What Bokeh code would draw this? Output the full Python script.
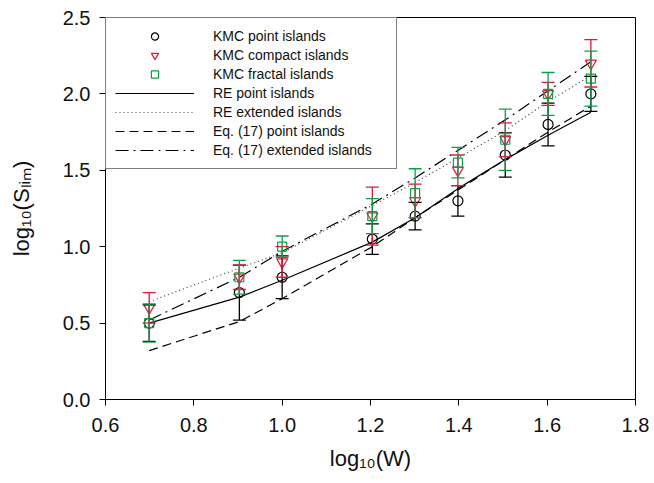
import numpy as np
from bokeh.plotting import figure
from bokeh.models import (Range1d, FixedTicker, PrintfTickFormatter, Whisker, TeeHead,
                          ColumnDataSource, Legend, LegendItem)
from bokeh.embed import file_html
from bokeh.resources import INLINE

# ---------------- data ----------------
W = [5, 8, 10, 16, 20, 25, 32, 40, 50]
logW = [float(np.log10(w)) for w in W]

kmc_point = [0.50, 0.70, 0.80, 1.05, 1.20, 1.30, 1.60, 1.80, 2.00]
kmc_point_err = [0.12, 0.18, 0.14, 0.10, 0.09, 0.10, 0.145, 0.14, 0.115]

kmc_compact = [0.60, 0.80, 0.90, 1.20, 1.30, 1.50, 1.70, 2.00, 2.20]
kmc_compact_err = [0.10, 0.08, 0.10, 0.19, 0.11, 0.10, 0.11, 0.075, 0.155]

kmc_fractal = [0.50, 0.80, 1.00, 1.20, 1.35, 1.55, 1.70, 2.00, 2.10]
kmc_fractal_err = [0.125, 0.11, 0.07, 0.115, 0.16, 0.10, 0.20, 0.14, 0.18]

re_point = [0.50, 0.67, 0.78, 1.03, 1.19, 1.38, 1.57, 1.73, 1.88]
re_extended = [0.64, 0.86, 0.96, 1.27, 1.42, 1.58, 1.76, 1.95, 2.12]
eq17_point = [0.32, 0.51, 0.66, 1.00, 1.19, 1.37, 1.57, 1.75, 1.92]
eq17_extended = [0.52, 0.80, 0.97, 1.28, 1.45, 1.63, 1.83, 2.02, 2.21]

x_ticks = [0.6, 0.8, 1.0, 1.2, 1.4, 1.6, 1.8]
y_ticks = [0.0, 0.5, 1.0, 1.5, 2.0, 2.5]

x_title = "log\u2081\u2080(W)"
y_title = "log\u2081\u2080(S\u2097\u1d62\u2098)"

RED = "#e4163c"
GREEN = "#0f9e48"
FONT = "Liberation Sans"

# ---------------- figure ----------------
p = figure(width=654, height=483, output_backend="svg", toolbar_location=None,
           x_range=Range1d(0.6, 1.8), y_range=Range1d(0.0, 2.5),
           min_border_left=105, min_border_right=19, min_border_top=17, min_border_bottom=84)
p.background_fill_color = "white"
p.border_fill_color = "white"
p.outline_line_color = "black"
p.outline_line_width = 1
p.xgrid.visible = False
p.ygrid.visible = False

for ax, ticks in ((p.xaxis, x_ticks), (p.yaxis, y_ticks)):
    ax.ticker = FixedTicker(ticks=ticks)
    ax.formatter = PrintfTickFormatter(format="%.1f")
    ax.major_tick_in = 0
    ax.major_tick_out = 6
    ax.minor_tick_line_color = None
    ax.axis_line_color = "black"
    ax.major_tick_line_color = "black"
    ax.major_label_text_font = FONT
    ax.major_label_text_font_size = "20px"
    ax.major_label_text_color = "#111111"
    ax.axis_label_text_font = FONT
    ax.axis_label_text_font_size = "22px"
    ax.axis_label_text_font_style = "normal"
    ax.axis_label_text_color = "#111111"
p.xaxis.major_label_standoff = 12
p.yaxis.major_label_standoff = 9
p.xaxis.axis_label = x_title
p.yaxis.axis_label = y_title
p.xaxis.axis_label_standoff = 11
p.yaxis.axis_label_standoff = 26


def make_whisker(vals, errs, color):
    src = ColumnDataSource(dict(x=logW, lo=[v - e for v, e in zip(vals, errs)],
                                hi=[v + e for v, e in zip(vals, errs)]))
    w = Whisker(source=src, base="x", lower="lo", upper="hi", line_color=color, line_width=1.3,
                upper_head=TeeHead(size=13, line_color=color, line_width=1.3),
                lower_head=TeeHead(size=13, line_color=color, line_width=1.3),
                level="glyph")
    p.add_layout(w)


make_whisker(kmc_point, kmc_point_err, "black")
make_whisker(kmc_compact, kmc_compact_err, RED)
make_whisker(kmc_fractal, kmc_fractal_err, GREEN)

r_re_p = p.line(logW, re_point, line_color="black", line_width=1.2)
r_re_e = p.line(logW, re_extended, line_color="#444444", line_width=1.2, line_dash="1 3")
r_eq_p = p.line(logW, eq17_point, line_color="black", line_width=1.2, line_dash="9 5")
r_eq_e = p.line(logW, eq17_extended, line_color="black", line_width=1.2, line_dash="13 5 2 5")

r_pt = p.scatter(logW, kmc_point, marker="circle", size=10, fill_color=None,
                 line_color="black", line_width=1.2)
r_cp = p.scatter(logW, kmc_compact, marker="inverted_triangle", size=11, fill_color=None,
                 line_color=RED, line_width=1.2)
r_fr = p.scatter(logW, kmc_fractal, marker="square", size=9, fill_color=None,
                 line_color=GREEN, line_width=1.2)

legend = Legend(items=[
    LegendItem(label="KMC point islands", renderers=[r_pt]),
    LegendItem(label="KMC compact islands", renderers=[r_cp]),
    LegendItem(label="KMC fractal islands", renderers=[r_fr]),
    LegendItem(label="RE point islands", renderers=[r_re_p]),
    LegendItem(label="RE extended islands", renderers=[r_re_e]),
    LegendItem(label="Eq. (17) point islands", renderers=[r_eq_p]),
    LegendItem(label="Eq. (17) extended islands", renderers=[r_eq_e]),
], location="top_left")
legend.margin = 0
legend.padding = 9
legend.spacing = 1
legend.label_height = 18
legend.glyph_height = 18
legend.glyph_width = 79
legend.label_standoff = 19
legend.label_width = 174
legend.label_text_font = FONT
legend.label_text_font_size = "14px"
legend.label_text_color = "#111111"
legend.border_line_color = "black"
legend.border_line_width = 1
legend.background_fill_color = "white"
legend.background_fill_alpha = 1.0
p.add_layout(legend)

open("out.html", "w").write(file_html(p, INLINE))
